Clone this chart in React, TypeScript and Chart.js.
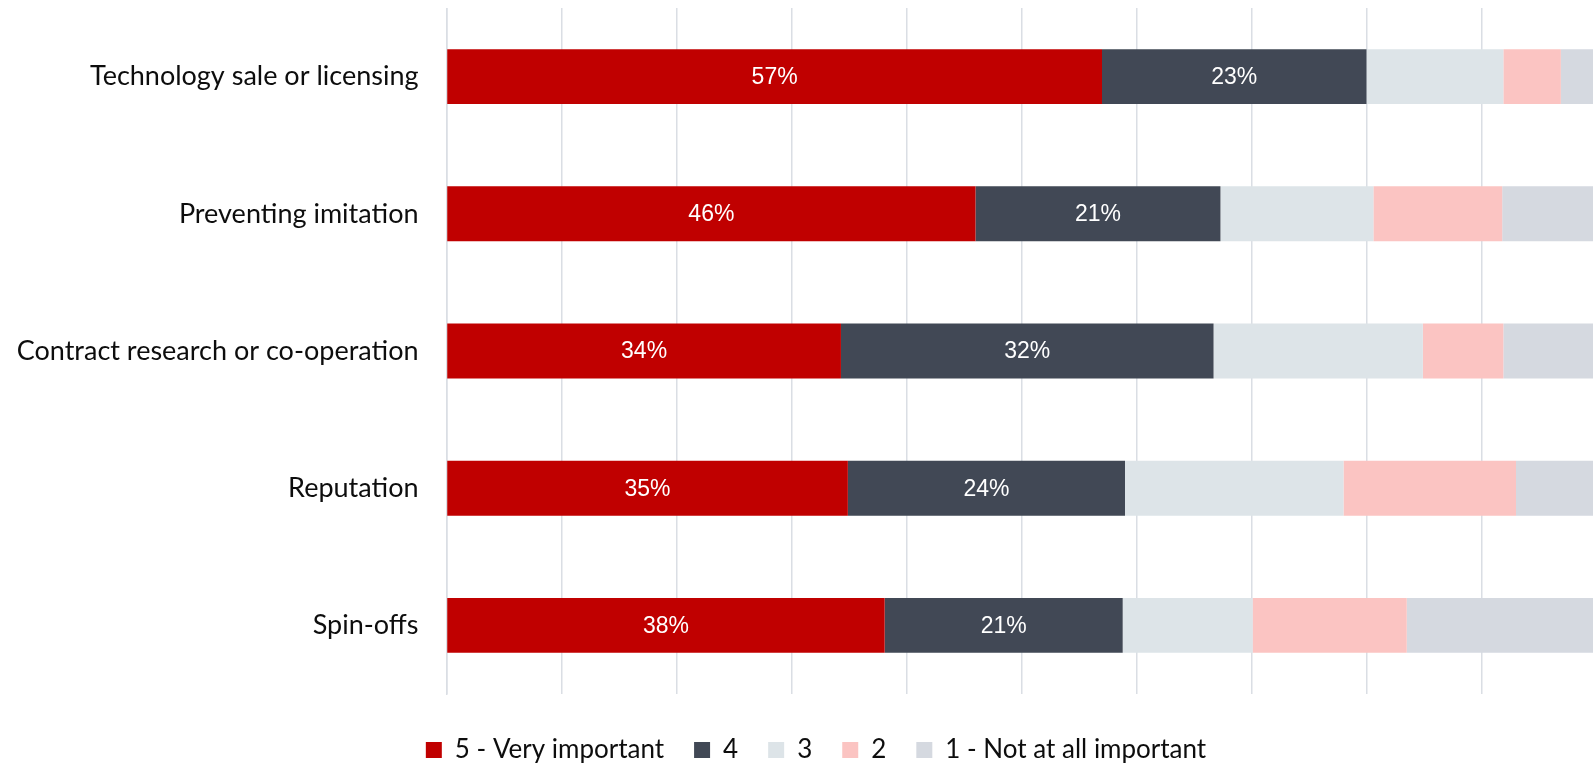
import React, { useEffect, useRef } from 'react';
import { Chart, registerables } from 'chart.js';

Chart.register(...registerables);

const categories = [
  'Technology sale or licensing',
  'Preventing imitation',
  'Contract research or co-operation',
  'Reputation',
  'Spin-offs',
];
const seriesNames = ['5 - Very important', '4', '3', '2', '1 - Not at all important'];
const veryImportant = [57, 46, 34.3, 34.9, 38.1];
const important4 = [23, 21.3, 32.4, 24.1, 20.7];
const neutral3 = [11.9, 13.3, 18.2, 19, 11.3];
const low2 = [5, 11.2, 7, 15, 13.4];
const notImportant = [3.1, 8.2, 8.1, 7, 16.5];
const seriesColors = ['#C00000', '#414855', '#DDE4E8', '#FBC4C2', '#D5D9E0'];
const labelledSeries = [0, 1];
const xTicks = [0, 10, 20, 30, 40, 50, 60, 70, 80, 90, 100];

const CANVAS_W = 1616;
const CANVAS_H = 757;
const GRID = '#dadee4';

const zeroPad = (s: any) => {
  s.paddingTop = 0;
  s.paddingBottom = 0;
  s.paddingLeft = 0;
  s.paddingRight = 0;
};

const barLabels = {
  id: 'barLabels',
  afterDatasetsDraw(chart: any) {
    const ctx = chart.ctx;
    ctx.save();
    ctx.font = '23px "Liberation Sans", Arial, sans-serif';
    ctx.fillStyle = '#ffffff';
    ctx.textAlign = 'center';
    ctx.textBaseline = 'middle';
    labelledSeries.forEach((di) => {
      const meta = chart.getDatasetMeta(di);
      meta.data.forEach((bar: any, i: number) => {
        const p = bar.getProps(['x', 'y', 'base'], true);
        const v = chart.data.datasets[di].data[i];
        ctx.fillText(Math.round(v) + '%', (p.x + p.base) / 2, p.y + 1);
      });
    });
    ctx.restore();
  },
};

export default function App() {
  const ref = useRef<HTMLCanvasElement | null>(null);
  useEffect(() => {
    document.documentElement.style.overflow = 'hidden';
    document.body.style.margin = '0';
    const values = [veryImportant, important4, neutral3, low2, notImportant];
    const chart = new Chart(ref.current as HTMLCanvasElement, {
      type: 'bar',
      data: {
        labels: categories,
        datasets: values.map((d, i) => ({
          label: seriesNames[i],
          data: d,
          backgroundColor: seriesColors[i],
          borderWidth: 0,
          barPercentage: 0.4,
          categoryPercentage: 1,
        })),
      },
      options: {
        indexAxis: 'y',
        responsive: false,
        animation: false,
        layout: { padding: { left: 0, right: 0, top: 0, bottom: -8 } },
        scales: {
          x: {
            stacked: true,
            min: 0,
            max: 100,
            afterBuildTicks: (s: any) => {
              s.ticks = xTicks.map((v) => ({ value: v }));
            },
            grid: { color: GRID, lineWidth: 1.5, drawTicks: false },
            border: { display: false },
            ticks: { display: false },
            afterFit: (s: any) => {
              s.height = 13;
              zeroPad(s);
            },
          },
          y: {
            stacked: true,
            grid: { display: false, drawTicks: false },
            border: { display: true, color: GRID, width: 1.5 },
            ticks: {
              color: '#0d0d0d',
              padding: 28,
              font: { family: 'Lato', size: 27 },
            },
            afterFit: (s: any) => {
              s.width = 438.5;
              zeroPad(s);
            },
          },
          yRight: {
            type: 'linear',
            axis: 'y',
            position: 'right',
            grid: { display: false, drawTicks: false },
            border: { display: false },
            ticks: { display: false },
            afterFit: (s: any) => {
              s.width = 27.5;
              zeroPad(s);
            },
          },
        },
        plugins: {
          legend: {
            position: 'bottom',
            labels: {
              boxWidth: 16,
              boxHeight: 16,
              padding: 30,
              color: '#0d0d0d',
              font: { family: 'Lato', size: 26 },
            },
          },
          tooltip: { enabled: false },
        },
      },
      plugins: [barLabels],
    } as any);
    return () => chart.destroy();
  }, []);
  return (
    <div style={{ paddingLeft: 8, paddingTop: 8, width: CANVAS_W, height: CANVAS_H }}>
      <canvas ref={ref} width={CANVAS_W} height={CANVAS_H} style={{ display: 'block' }} />
    </div>
  );
}
